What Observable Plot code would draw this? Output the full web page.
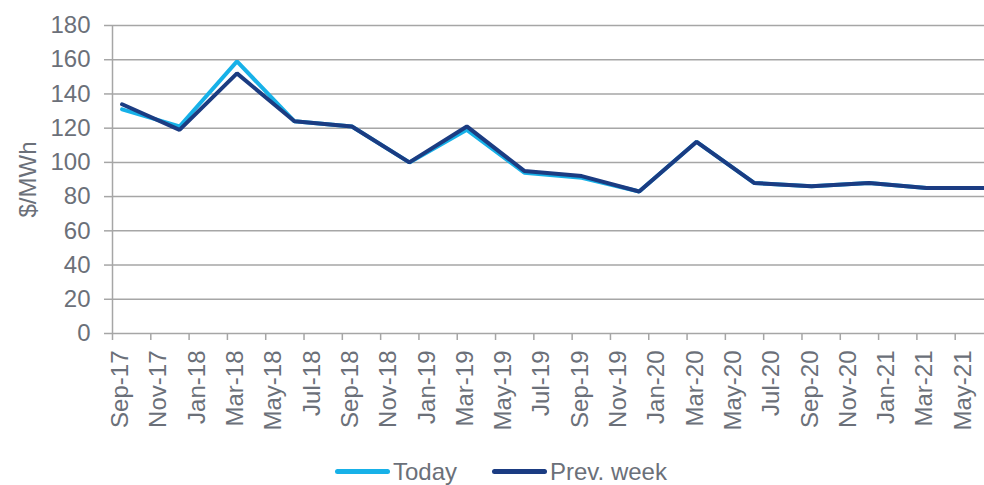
<!DOCTYPE html>
<html>
<head>
<meta charset="utf-8">
<script src="https://cdn.jsdelivr.net/npm/d3@7"></script>
<script src="https://cdn.jsdelivr.net/npm/@observablehq/plot@0.6"></script>
<style>
  html, body { margin: 0; padding: 0; background: #fff; overflow: hidden; }
  #wrap { position: relative; width: 984px; height: 485px; font-family: "Liberation Sans", Arial, sans-serif; color: #6b7079; }
  #legend { position: absolute; left: 0; top: 455px; width: 984px; height: 33px; font-size: 24px; }
  .item { position: absolute; top: 0; display: flex; align-items: center; height: 33px; }
  .sw { width: 55px; height: 5px; border-radius: 3px; margin-right: 3px; }
</style>
</head>
<body>
<div id="wrap">
  <div id="chart"></div>
  <div id="legend"></div>
</div>
<script>
// ---- data ----
const quarters = ["Sep-17","Dec-17","Mar-18","Jun-18","Sep-18","Dec-18","Mar-19","Jun-19","Sep-19","Dec-19","Mar-20","Jun-20","Sep-20","Dec-20","Mar-21","Jun-21"];
const today    = [131, 121, 159, 124, 121, 100, 119, 94, 91, 83, 112, 88, 86, 88, 85, 85];
const prevWeek = [134, 119, 152, 124, 121, 100, 121, 95, 92, 83, 112, 88, 86, 88, 85, 85];
const xLabels = ["Sep-17","Nov-17","Jan-18","Mar-18","May-18","Jul-18","Sep-18","Nov-18","Jan-19","Mar-19","May-19","Jul-19","Sep-19","Nov-19","Jan-20","Mar-20","May-20","Jul-20","Sep-20","Nov-20","Jan-21","Mar-21","May-21"];
const yTicks = [0, 20, 40, 60, 80, 100, 120, 140, 160, 180];
const yLabel = "$/MWh";
const seriesNames = ["Today", "Prev. week"];
const seriesColors = ["#17b1e8", "#1b3c82"];

// ---- helpers ----
const parse = d3.utcParse("%b-%y");
const start = parse(quarters[0]);
const monthIdx = s => d3.utcMonth.count(start, parse(s));

const todayData = quarters.map((q, i) => ({idx: monthIdx(q), v: today[i]}));
const prevData = quarters.map((q, i) => ({idx: monthIdx(q), v: prevWeek[i]}));
const labelData = xLabels.map(l => ({idx: monthIdx(l), label: l}));
const boundaries = labelData.map(d => d.idx - 0.5);
const nMonths = monthIdx(quarters[quarters.length - 1]) + 1;

const grid = "#a6a6a6";
const txt = "#6b7079";
const chart = Plot.plot({
  width: 984,
  height: 440,
  marginLeft: 112,
  marginRight: 0,
  marginTop: 25,
  marginBottom: 107,
  style: {fontFamily: "Liberation Sans, Arial, sans-serif", fontSize: "24px", color: txt, background: "#fff"},
  x: {type: "linear", domain: [-0.5, nMonths - 0.5], range: [112, 993], axis: null},
  y: {domain: [0, 180], axis: null},
  marks: [
    Plot.ruleY(yTicks, {stroke: grid, strokeWidth: 1.5}),
    Plot.ruleX([-0.5], {stroke: grid, strokeWidth: 1.5}),
    Plot.axisY(yTicks, {label: null, tickSize: 8, tickPadding: 14, stroke: grid, strokeWidth: 1.5, fontSize: 24, fill: txt}),
    Plot.ruleX(boundaries, {y1: 0, y2: 0, insetBottom: -7, stroke: grid, strokeWidth: 1.5}),
    Plot.text(labelData, {x: "idx", text: "label", frameAnchor: "bottom", rotate: -90, textAnchor: "end", dy: 17, dx: 6, fontSize: 24, fill: txt}),
    Plot.text([yLabel], {frameAnchor: "left", textAnchor: "middle", rotate: -90, dx: -84, fontSize: 24, fill: txt}),
    Plot.line(todayData, {x: "idx", y: "v", stroke: seriesColors[0], strokeWidth: 4, strokeLinejoin: "miter"}),
    Plot.line(prevData, {x: "idx", y: "v", stroke: seriesColors[1], strokeWidth: 4, strokeLinejoin: "miter"})
  ]
});
document.getElementById("chart").appendChild(chart);

// legend
const legend = document.getElementById("legend");
const lefts = [335, 492];
seriesNames.forEach((n, i) => {
  const it = document.createElement("div");
  it.className = "item";
  it.style.left = lefts[i] + "px";
  const sw = document.createElement("span");
  sw.className = "sw";
  sw.style.background = seriesColors[i];
  const t = document.createElement("span");
  t.textContent = n;
  it.appendChild(sw); it.appendChild(t);
  legend.appendChild(it);
});
</script>
</body>
</html>
